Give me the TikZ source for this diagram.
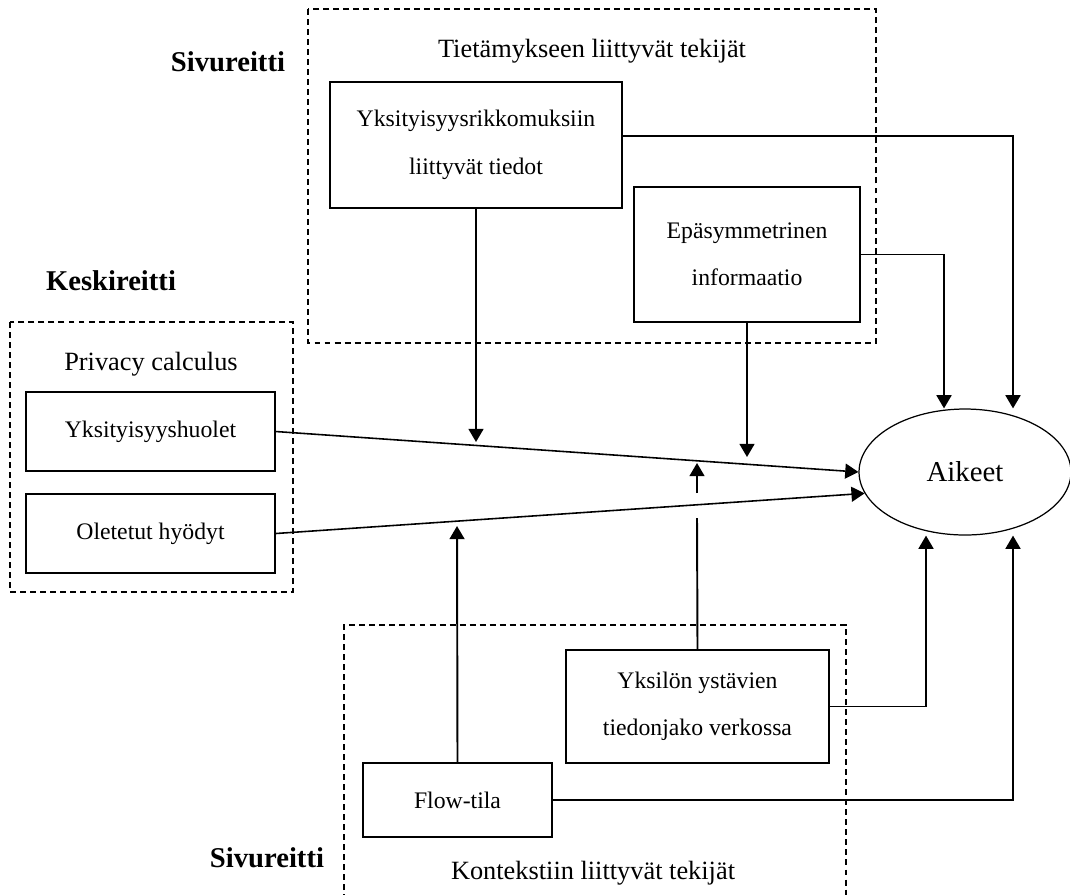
\documentclass[tikz,border=0pt]{standalone}
\usepackage{fontspec}
\setmainfont{Liberation Serif}
\usetikzlibrary{arrows.meta,calc,shapes.geometric}
\begin{document}
\begin{tikzpicture}[x=0.02cm,y=-0.02cm,
  box/.style={draw,line width=0.8pt,align=center,inner sep=0pt,
              font=\fontsize{13.5}{27}\selectfont},
  group/.style={draw,line width=0.6pt,dash pattern=on 3.4pt off 2.3pt},
  grouptitle/.style={font=\fontsize{15}{18}\selectfont,anchor=base,inner sep=0pt},
  route/.style={font=\bfseries\fontsize{16.3}{19}\selectfont,anchor=base,inner sep=0pt},
  tip/.style={-{Triangle[length=7.5pt,width=8.5pt]}},
  link/.style={line width=1.1pt,tip},
  plain/.style={line width=1.1pt},
  slope/.style={line width=0.9pt,tip},
]
\useasboundingbox (0,0) rectangle (1070,894);

% dashed group frames
\draw[group] (308,9) rectangle (876,343);
\draw[group] (10,322) rectangle (293,592);
\draw[group] (344,900) -- (344,625) -- (846,625) -- (846,900);

% group titles and route labels
\node[grouptitle] (t1) at (592,57) {Tietämykseen liittyvät tekijät};
\node[grouptitle] (t2) at (151,370) {Privacy calculus};
\node[grouptitle] (t3) at (593,879) {Kontekstiin liittyvät tekijät};
\node[route] (r1) at (228,71) {Sivureitti};
\node[route] (r2) at (111,290) {Keskireitti};
\node[route] (r3) at (267,867) {Sivureitti};

% factor boxes
\node[box,minimum width=5.84cm,minimum height=2.52cm] (yr) at (476,145)
  {Yksityisyysrikkomuksiin\\liittyvät tiedot};
\node[box,minimum width=4.52cm,minimum height=2.70cm] (ep) at (747,254.5)
  {Epäsymmetrinen\\informaatio};
\node[box,minimum width=4.98cm,minimum height=1.58cm] (yh) at (150.5,431.5)
  {Yksityisyyshuolet};
\node[box,minimum width=4.98cm,minimum height=1.58cm] (ol) at (150.5,533.5)
  {Oletetut hyödyt};
\node[box,minimum width=5.26cm,minimum height=2.26cm] (yy) at (697.5,706.5)
  {Yksilön ystävien\\tiedonjako verkossa};
\node[box,minimum width=3.78cm,minimum height=1.48cm] (fl) at (457.5,800)
  {Flow-tila};

% outcome
\node[ellipse,draw,line width=0.7pt,minimum width=4.24cm,minimum height=2.52cm,
      inner sep=0pt,font=\fontsize{16.4}{20}\selectfont] (aik) at (965,472) {Aikeet};

% direct paths into the outcome
\draw[slope] (yh.east) -- (aik.west);
\draw[slope] (ol.east) -- (aik.192);
\draw[link] ([yshift=5pt]yr.east) -| ($(aik.north)+(48,0)$);
\draw[link] (ep.east) -| ($(aik.north)+(-21,0)$);
\draw[link] (yy.east) -| ($(aik.south)+(-39,0)$);
\draw[link] (fl.east) -| ($(aik.south)+(48,0)$);

% moderating arrows onto the calculus paths
\coordinate (d1) at (476,442);
\coordinate (d2) at (747,457);
\coordinate (f1) at (457,526);
\coordinate (u0) at (697,518);
\coordinate (u1) at (697,493);
\coordinate (u2) at (697,463);
\draw[link] (yr.south) -- (d1);
\draw[link] (ep.south) -- (d2);
\draw[link] (fl.north) -- (f1);
\draw[plain] (yy.north) -- (u0);
\draw[link] (u1) -- (u2);
\end{tikzpicture}
\end{document}
